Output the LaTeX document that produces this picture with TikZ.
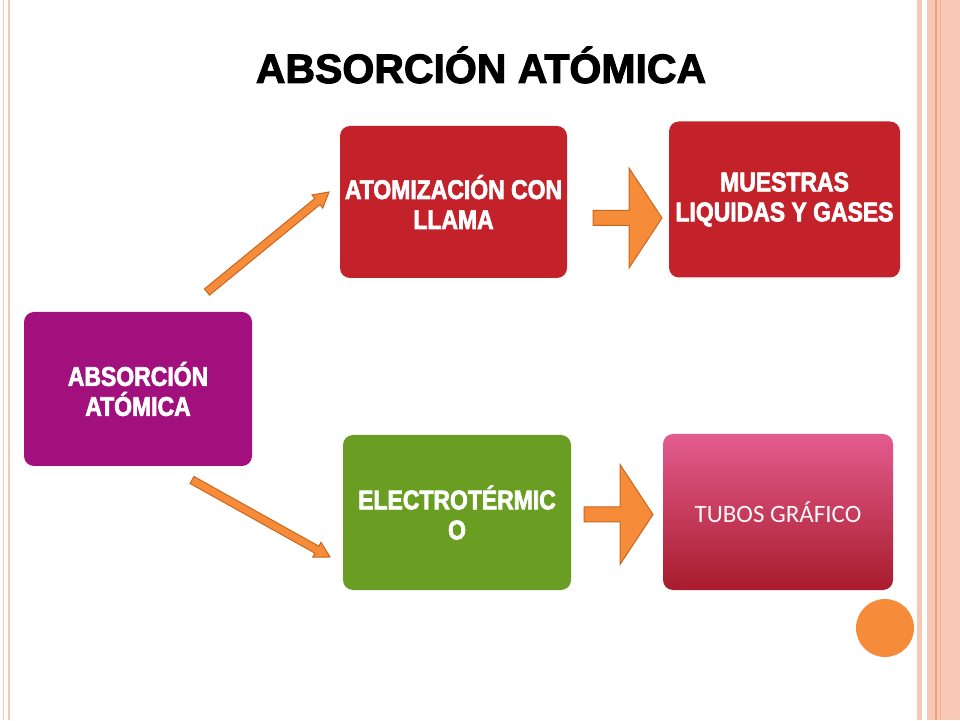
\documentclass[tikz,border=0pt]{standalone}
\usepackage{fontspec}
\setmainfont{Liberation Sans}
\newfontfamily\boxfont[FakeStretch=0.85, BoldFeatures={FakeBold=2.5}]{Liberation Sans}
\newfontfamily\tubosfont{Carlito}
\newfontfamily\titlefont[BoldFeatures={FakeBold=2.5}]{Liberation Sans}
\usepackage{tikz}
\usetikzlibrary{positioning, calc}

\definecolor{morado}{HTML}{A2107E}
\definecolor{rojo}{HTML}{C3222A}
\definecolor{verde}{HTML}{6A9E22}
\definecolor{rosaA}{HTML}{E35C8E}
\definecolor{rosaB}{HTML}{A81C2C}
\definecolor{naranja}{HTML}{F68B3A}
\definecolor{naranjaD}{HTML}{C8671F}
\definecolor{borde}{HTML}{F9C8B5}
\definecolor{bordeD}{HTML}{EFA184}

\tikzset{
	caja/.style={rounded corners=10pt, minimum width=228pt, minimum height=154pt, align=center, text=white, font=\boxfont\bfseries\fontsize{27}{30}\selectfont},
	flecha/.style={fill=naranja, draw=naranjaD, line width=1pt, line join=miter}
}

\newcommand{\flechafina}[2]{%
	\draw[flecha] let \p1=($(#2)-(#1)$), \n1={atan2(\y1,\x1)}, \n2={veclen(\x1,\y1)} in
		[shift={(#1)}, rotate=\n1] (0,-4) -- (\n2-15,-4) -- (\n2-15,-8.5) -- (\n2,0) -- (\n2-15,8.5) -- (\n2-15,4) -- (0,4) -- cycle;}
\newcommand{\flechagruesa}[1]{%
	\draw[flecha, shift={(#1)}] (0,-7.5) -- (36,-7.5) -- (36,-50) -- (69,0) -- (36,50) -- (36,7.5) -- (0,7.5) -- cycle;}

\begin{document}
\begin{tikzpicture}[x=1pt, y=1pt]
\useasboundingbox (0,0) rectangle (960,720);
\fill[white] (0,0) rectangle (960,720);

\draw[borde, line width=1.5pt] (3.5,0) -- (3.5,720) (9,0) -- (9,720);
\fill[borde] (917,0) rectangle (921.5,720);
\fill[borde] (927,0) rectangle (960,720);
\draw[bordeD, line width=1.5pt] (936,0) -- (936,720);
\draw[bordeD!60!borde, line width=1pt] (940,0) -- (940,720);

\node[font=\titlefont\bfseries\fontsize{41}{41}\selectfont] (titulo) at (481,655) {ABSORCIÓN ATÓMICA};

\node[caja, fill=morado] (abs) at (138,331) {ABSORCIÓN\\ATÓMICA};
\node[caja, fill=rojo, minimum width=227pt, minimum height=152pt] (llama) at (453.5,518) {ATOMIZACIÓN CON\\LLAMA};
\node[caja, fill=rojo, minimum width=231pt, minimum height=156pt] (muestras) at (784.5,520.5) {MUESTRAS\\LIQUIDAS Y GASES};
\node[caja, fill=verde, minimum height=155pt] (electro) at (457,207.5) {ELECTROTÉRMIC\\O};
\node[caja, top color=rosaA, bottom color=rosaB, minimum width=230pt, minimum height=156pt, font=\tubosfont\fontsize{25}{30}\selectfont, text=white!95!rosaA] (tubos) at (778,208) {TUBOS GRÁFICO};

\coordinate (f1a) at (207,428);
\coordinate (f1b) at (329,528);
\coordinate (f2a) at (192,240);
\coordinate (f2b) at (330,163);
\coordinate (g1) at (593,502);
\coordinate (g2) at (584,205.5);

\flechafina{f1a}{f1b}
\flechafina{f2a}{f2b}
\flechagruesa{g1}
\flechagruesa{g2}

\fill[naranja] (885,92) circle (29);

\end{tikzpicture}
\end{document}
